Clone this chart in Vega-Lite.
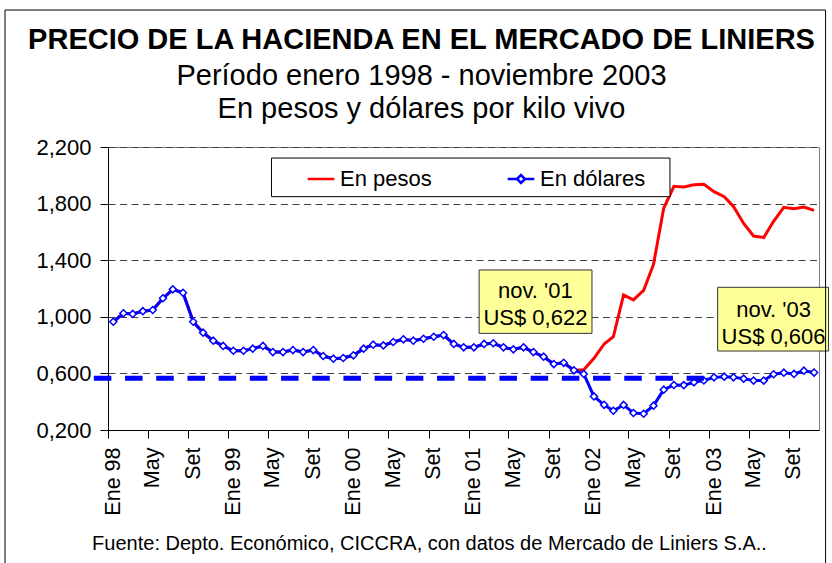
{
  "$schema": "https://vega.github.io/schema/vega-lite/v6.json",
  "autosize": {"type": "none"},
  "width": 711,
  "height": 283,
  "padding": {"left": 108, "top": 147, "right": 13, "bottom": 133},
  "background": "white",
  "config": {
    "font": "Liberation Sans",
    "view": {"stroke": "#808080", "strokeWidth": 1}
  },
  "title": {
    "text": "PRECIO DE LA HACIENDA EN EL MERCADO DE LINIERS",
    "subtitle": ["Período enero 1998 - noviembre 2003", "En pesos y dólares por kilo vivo"],
    "anchor": "middle",
    "dx": -42,
    "offset": -114.5,
    "font": "Liberation Sans",
    "fontSize": 29,
    "fontWeight": "bold",
    "color": "black",
    "subtitleFont": "Liberation Sans",
    "subtitleFontSize": 29,
    "subtitleColor": "black",
    "subtitlePadding": 7,
    "subtitleLineHeight": 33
  },
  "data": {
    "values": [
      {"fecha": "1998-01-01", "pesos": 0.965, "dolares": 0.965},
      {"fecha": "1998-02-01", "pesos": 1.025, "dolares": 1.025},
      {"fecha": "1998-03-01", "pesos": 1.02, "dolares": 1.02},
      {"fecha": "1998-04-01", "pesos": 1.04, "dolares": 1.04},
      {"fecha": "1998-05-01", "pesos": 1.048, "dolares": 1.048},
      {"fecha": "1998-06-01", "pesos": 1.131, "dolares": 1.131},
      {"fecha": "1998-07-01", "pesos": 1.194, "dolares": 1.194},
      {"fecha": "1998-08-01", "pesos": 1.17, "dolares": 1.17},
      {"fecha": "1998-09-01", "pesos": 0.965, "dolares": 0.965},
      {"fecha": "1998-10-01", "pesos": 0.888, "dolares": 0.888},
      {"fecha": "1998-11-01", "pesos": 0.831, "dolares": 0.831},
      {"fecha": "1998-12-01", "pesos": 0.794, "dolares": 0.794},
      {"fecha": "1999-01-01", "pesos": 0.76, "dolares": 0.76},
      {"fecha": "1999-02-01", "pesos": 0.76, "dolares": 0.76},
      {"fecha": "1999-03-01", "pesos": 0.775, "dolares": 0.775},
      {"fecha": "1999-04-01", "pesos": 0.794, "dolares": 0.794},
      {"fecha": "1999-05-01", "pesos": 0.751, "dolares": 0.751},
      {"fecha": "1999-06-01", "pesos": 0.751, "dolares": 0.751},
      {"fecha": "1999-07-01", "pesos": 0.765, "dolares": 0.765},
      {"fecha": "1999-08-01", "pesos": 0.751, "dolares": 0.751},
      {"fecha": "1999-09-01", "pesos": 0.765, "dolares": 0.765},
      {"fecha": "1999-10-01", "pesos": 0.723, "dolares": 0.723},
      {"fecha": "1999-11-01", "pesos": 0.704, "dolares": 0.704},
      {"fecha": "1999-12-01", "pesos": 0.709, "dolares": 0.709},
      {"fecha": "2000-01-01", "pesos": 0.728, "dolares": 0.728},
      {"fecha": "2000-02-01", "pesos": 0.775, "dolares": 0.775},
      {"fecha": "2000-03-01", "pesos": 0.803, "dolares": 0.803},
      {"fecha": "2000-04-01", "pesos": 0.798, "dolares": 0.798},
      {"fecha": "2000-05-01", "pesos": 0.822, "dolares": 0.822},
      {"fecha": "2000-06-01", "pesos": 0.841, "dolares": 0.841},
      {"fecha": "2000-07-01", "pesos": 0.831, "dolares": 0.831},
      {"fecha": "2000-08-01", "pesos": 0.845, "dolares": 0.845},
      {"fecha": "2000-09-01", "pesos": 0.859, "dolares": 0.859},
      {"fecha": "2000-10-01", "pesos": 0.871, "dolares": 0.871},
      {"fecha": "2000-11-01", "pesos": 0.808, "dolares": 0.808},
      {"fecha": "2000-12-01", "pesos": 0.784, "dolares": 0.784},
      {"fecha": "2001-01-01", "pesos": 0.784, "dolares": 0.784},
      {"fecha": "2001-02-01", "pesos": 0.808, "dolares": 0.808},
      {"fecha": "2001-03-01", "pesos": 0.813, "dolares": 0.813},
      {"fecha": "2001-04-01", "pesos": 0.784, "dolares": 0.784},
      {"fecha": "2001-05-01", "pesos": 0.77, "dolares": 0.77},
      {"fecha": "2001-06-01", "pesos": 0.784, "dolares": 0.784},
      {"fecha": "2001-07-01", "pesos": 0.751, "dolares": 0.751},
      {"fecha": "2001-08-01", "pesos": 0.718, "dolares": 0.718},
      {"fecha": "2001-09-01", "pesos": 0.666, "dolares": 0.666},
      {"fecha": "2001-10-01", "pesos": 0.675, "dolares": 0.675},
      {"fecha": "2001-11-01", "pesos": 0.622, "dolares": 0.622},
      {"fecha": "2001-12-01", "pesos": 0.625, "dolares": 0.596},
      {"fecha": "2002-01-01", "pesos": 0.707, "dolares": 0.437},
      {"fecha": "2002-02-01", "pesos": 0.808, "dolares": 0.378},
      {"fecha": "2002-03-01", "pesos": 0.859, "dolares": 0.336},
      {"fecha": "2002-04-01", "pesos": 1.154, "dolares": 0.377},
      {"fecha": "2002-05-01", "pesos": 1.119, "dolares": 0.32},
      {"fecha": "2002-06-01", "pesos": 1.187, "dolares": 0.315},
      {"fecha": "2002-07-01", "pesos": 1.37, "dolares": 0.372},
      {"fecha": "2002-08-01", "pesos": 1.767, "dolares": 0.485},
      {"fecha": "2002-09-01", "pesos": 1.922, "dolares": 0.518},
      {"fecha": "2002-10-01", "pesos": 1.918, "dolares": 0.517},
      {"fecha": "2002-11-01", "pesos": 1.933, "dolares": 0.537},
      {"fecha": "2002-12-01", "pesos": 1.936, "dolares": 0.55},
      {"fecha": "2003-01-01", "pesos": 1.884, "dolares": 0.572},
      {"fecha": "2003-02-01", "pesos": 1.849, "dolares": 0.577},
      {"fecha": "2003-03-01", "pesos": 1.78, "dolares": 0.572},
      {"fecha": "2003-04-01", "pesos": 1.66, "dolares": 0.563},
      {"fecha": "2003-05-01", "pesos": 1.571, "dolares": 0.549},
      {"fecha": "2003-06-01", "pesos": 1.56, "dolares": 0.549},
      {"fecha": "2003-07-01", "pesos": 1.675, "dolares": 0.594},
      {"fecha": "2003-08-01", "pesos": 1.774, "dolares": 0.605},
      {"fecha": "2003-09-01", "pesos": 1.763, "dolares": 0.596},
      {"fecha": "2003-10-01", "pesos": 1.776, "dolares": 0.619},
      {"fecha": "2003-11-01", "pesos": 1.752, "dolares": 0.606}
    ]
  },
  "encoding": {
    "x": {
      "field": "fecha",
      "type": "temporal",
      "scale": {
        "type": "utc",
        "domain": [
          {"year": 1997, "month": 12, "date": 16, "utc": true},
          {"year": 2003, "month": 11, "date": 16, "utc": true}
        ]
      },
      "axis": {
        "values": [
          {"year": 1998, "month": 1, "date": 1, "utc": true},
          {"year": 1998, "month": 5, "date": 1, "utc": true},
          {"year": 1998, "month": 9, "date": 1, "utc": true},
          {"year": 1999, "month": 1, "date": 1, "utc": true},
          {"year": 1999, "month": 5, "date": 1, "utc": true},
          {"year": 1999, "month": 9, "date": 1, "utc": true},
          {"year": 2000, "month": 1, "date": 1, "utc": true},
          {"year": 2000, "month": 5, "date": 1, "utc": true},
          {"year": 2000, "month": 9, "date": 1, "utc": true},
          {"year": 2001, "month": 1, "date": 1, "utc": true},
          {"year": 2001, "month": 5, "date": 1, "utc": true},
          {"year": 2001, "month": 9, "date": 1, "utc": true},
          {"year": 2002, "month": 1, "date": 1, "utc": true},
          {"year": 2002, "month": 5, "date": 1, "utc": true},
          {"year": 2002, "month": 9, "date": 1, "utc": true},
          {"year": 2003, "month": 1, "date": 1, "utc": true},
          {"year": 2003, "month": 5, "date": 1, "utc": true},
          {"year": 2003, "month": 9, "date": 1, "utc": true}
        ],
        "labelExpr": "utcmonth(datum.value) == 0 ? 'Ene ' + utcFormat(datum.value, '%y') : (utcmonth(datum.value) == 4 ? 'May' : 'Set')",
        "labelAngle": 270,
        "labelAlign": "right",
        "labelBaseline": "middle",
        "labelFontSize": 21.5,
        "labelColor": "black",
        "labelPadding": 9,
        "labelOffset": 5,
        "tickOffset": -5,
        "tickSize": 8,
        "tickColor": "black",
        "domainColor": "black",
        "grid": false,
        "labelOverlap": false,
        "labelFlush": false,
        "title": "Fuente: Depto. Económico, CICCRA, con datos de Mercado de Liniers S.A..",
        "titleFontSize": 20,
        "titleFontWeight": "normal",
        "titleColor": "black",
        "titleX": 321,
        "titleY": 119,
        "titleAlign": "center",
        "titleBaseline": "alphabetic"
      }
    }
  },
  "layer": [
    {
      "mark": {"type": "line", "strokeWidth": 3, "clip": false},
      "encoding": {
        "y": {
          "field": "pesos",
          "type": "quantitative",
          "scale": {"domain": [0.2, 2.2], "nice": false, "zero": false},
          "axis": {
            "values": [0.2, 0.6, 1.0, 1.4, 1.8, 2.2],
            "labelExpr": "replace(format(datum.value, '.3f'), '.', ',')",
            "labelFontSize": 22,
            "labelColor": "black",
            "labelPadding": 9,
            "tickSize": 8,
            "tickColor": "black",
            "domainColor": "black",
            "grid": true,
            "gridColor": "#404040",
            "gridDash": [7, 4.5],
            "gridWidth": 1,
            "title": null
          }
        },
        "color": {
          "datum": "En pesos",
          "type": "nominal",
          "scale": {"domain": ["En pesos", "En dólares"], "range": ["#ff0000", "#0000ff"]},
          "legend": {
            "orient": "none",
            "legendX": 198,
            "legendY": 17,
            "direction": "horizontal",
            "title": null,
            "padding": 0,
            "symbolType": "stroke",
            "symbolSize": 713,
            "symbolStrokeWidth": 2.5,
            "labelFontSize": 22,
            "labelColor": "black",
            "labelOffset": 4,
            "columnPadding": 70,
            "encode": {
              "symbols": {
                "update": {
                  "shape": {"signal": "datum.value === 'En dólares' ? 'M-1,0L-0.3,0M0.3,0L1,0M-0.3,0L0,-0.3L0.3,0L0,0.3Z' : 'stroke'"},
                  "fill": {"value": "white"},
                  "fillOpacity": {"value": 1}
                }
              }
            }
          }
        }
      }
    },
    {
      "mark": {"type": "line", "strokeWidth": 3, "clip": false},
      "encoding": {
        "y": {"field": "dolares", "type": "quantitative"},
        "color": {"datum": "En dólares", "type": "nominal"}
      }
    },
    {
      "mark": {"type": "point", "shape": "diamond", "filled": true, "fill": "white", "stroke": "#0000ff", "strokeWidth": 1.5, "size": 50, "opacity": 1, "clip": false},
      "encoding": {
        "y": {"field": "dolares", "type": "quantitative"}
      }
    },
    {
      "mark": {"type": "rule", "stroke": "#0000ff", "strokeWidth": 5, "strokeDash": [17.5, 13.7], "clip": false},
      "encoding": {
        "x": {"datum": {"year": 1997, "month": 11, "date": 3, "utc": true}, "type": "temporal"},
        "x2": {"datum": {"year": 2002, "month": 12, "date": 3, "utc": true}},
        "y": {"datum": 0.565, "type": "quantitative"},
        "opacity": {"condition": {"test": "utcyear(datum.fecha) == 1998 && utcmonth(datum.fecha) == 0", "value": 1}, "value": 0}
      }
    },
    {
      "mark": {"type": "rect", "fill": "white", "stroke": "black", "strokeWidth": 1, "clip": false},
      "encoding": {
        "x": {"datum": {"year": 1999, "month": 4, "date": 27, "utc": true}, "type": "temporal"},
        "x2": {"datum": {"year": 2002, "month": 8, "date": 20, "utc": true}},
        "y": {"datum": 2.122, "type": "quantitative"},
        "y2": {"datum": 1.849},
        "opacity": {"condition": {"test": "utcyear(datum.fecha) == 1998 && utcmonth(datum.fecha) == 0", "value": 1}, "value": 0}
      }
    },
    {
      "mark": {"type": "rect", "fill": "#ffff99", "stroke": "#333333", "strokeWidth": 1, "clip": false},
      "encoding": {
        "x": {"datum": {"year": 2001, "month": 1, "date": 17, "utc": true}, "type": "temporal"},
        "x2": {"datum": {"year": 2001, "month": 12, "date": 26, "utc": true}},
        "y": {"datum": 1.331, "type": "quantitative"},
        "y2": {"datum": 0.883},
        "opacity": {"condition": {"test": "utcyear(datum.fecha) == 1998 && utcmonth(datum.fecha) == 0", "value": 1}, "value": 0}
      }
    },
    {
      "mark": {"type": "text", "text": "nov. '01\nUS$ 0,622", "lineBreak": "\n", "lineHeight": 27, "font": "Liberation Sans", "fontSize": 22, "fontWeight": "normal", "align": "center", "baseline": "alphabetic", "fill": "black", "clip": false},
      "encoding": {
        "x": {"datum": {"year": 2001, "month": 7, "date": 7, "utc": true}, "type": "temporal"},
        "y": {"datum": 1.131, "type": "quantitative"},
        "opacity": {"condition": {"test": "utcyear(datum.fecha) == 1998 && utcmonth(datum.fecha) == 0", "value": 1}, "value": 0}
      }
    },
    {
      "mark": {"type": "rect", "fill": "#ffff99", "stroke": "#333333", "strokeWidth": 1, "clip": false},
      "encoding": {
        "x": {"datum": {"year": 2003, "month": 1, "date": 12, "utc": true}, "type": "temporal"},
        "x2": {"datum": {"year": 2003, "month": 12, "date": 15, "utc": true}},
        "y": {"datum": 1.2085, "type": "quantitative"},
        "y2": {"datum": 0.758},
        "opacity": {"condition": {"test": "utcyear(datum.fecha) == 1998 && utcmonth(datum.fecha) == 0", "value": 1}, "value": 0}
      }
    },
    {
      "mark": {"type": "text", "text": "nov. '03\nUS$ 0,606", "lineBreak": "\n", "lineHeight": 27, "font": "Liberation Sans", "fontSize": 22, "fontWeight": "normal", "align": "center", "baseline": "alphabetic", "fill": "black", "clip": false},
      "encoding": {
        "x": {"datum": {"year": 2003, "month": 7, "date": 1, "utc": true}, "type": "temporal"},
        "y": {"datum": 1.0007, "type": "quantitative"},
        "opacity": {"condition": {"test": "utcyear(datum.fecha) == 1998 && utcmonth(datum.fecha) == 0", "value": 1}, "value": 0}
      }
    },
    {
      "mark": {"type": "rect", "fill": null, "fillOpacity": 0, "stroke": "black", "strokeWidth": 1, "clip": false},
      "encoding": {
        "x": {"datum": {"year": 1997, "month": 2, "date": 6, "utc": true}, "type": "temporal"},
        "x2": {"datum": {"year": 2003, "month": 12, "date": 6, "utc": true}},
        "y": {"datum": 3.168, "type": "quantitative"},
        "y2": {"datum": -0.8},
        "opacity": {"condition": {"test": "utcyear(datum.fecha) == 1998 && utcmonth(datum.fecha) == 0", "value": 1}, "value": 0}
      }
    }
  ]
}
